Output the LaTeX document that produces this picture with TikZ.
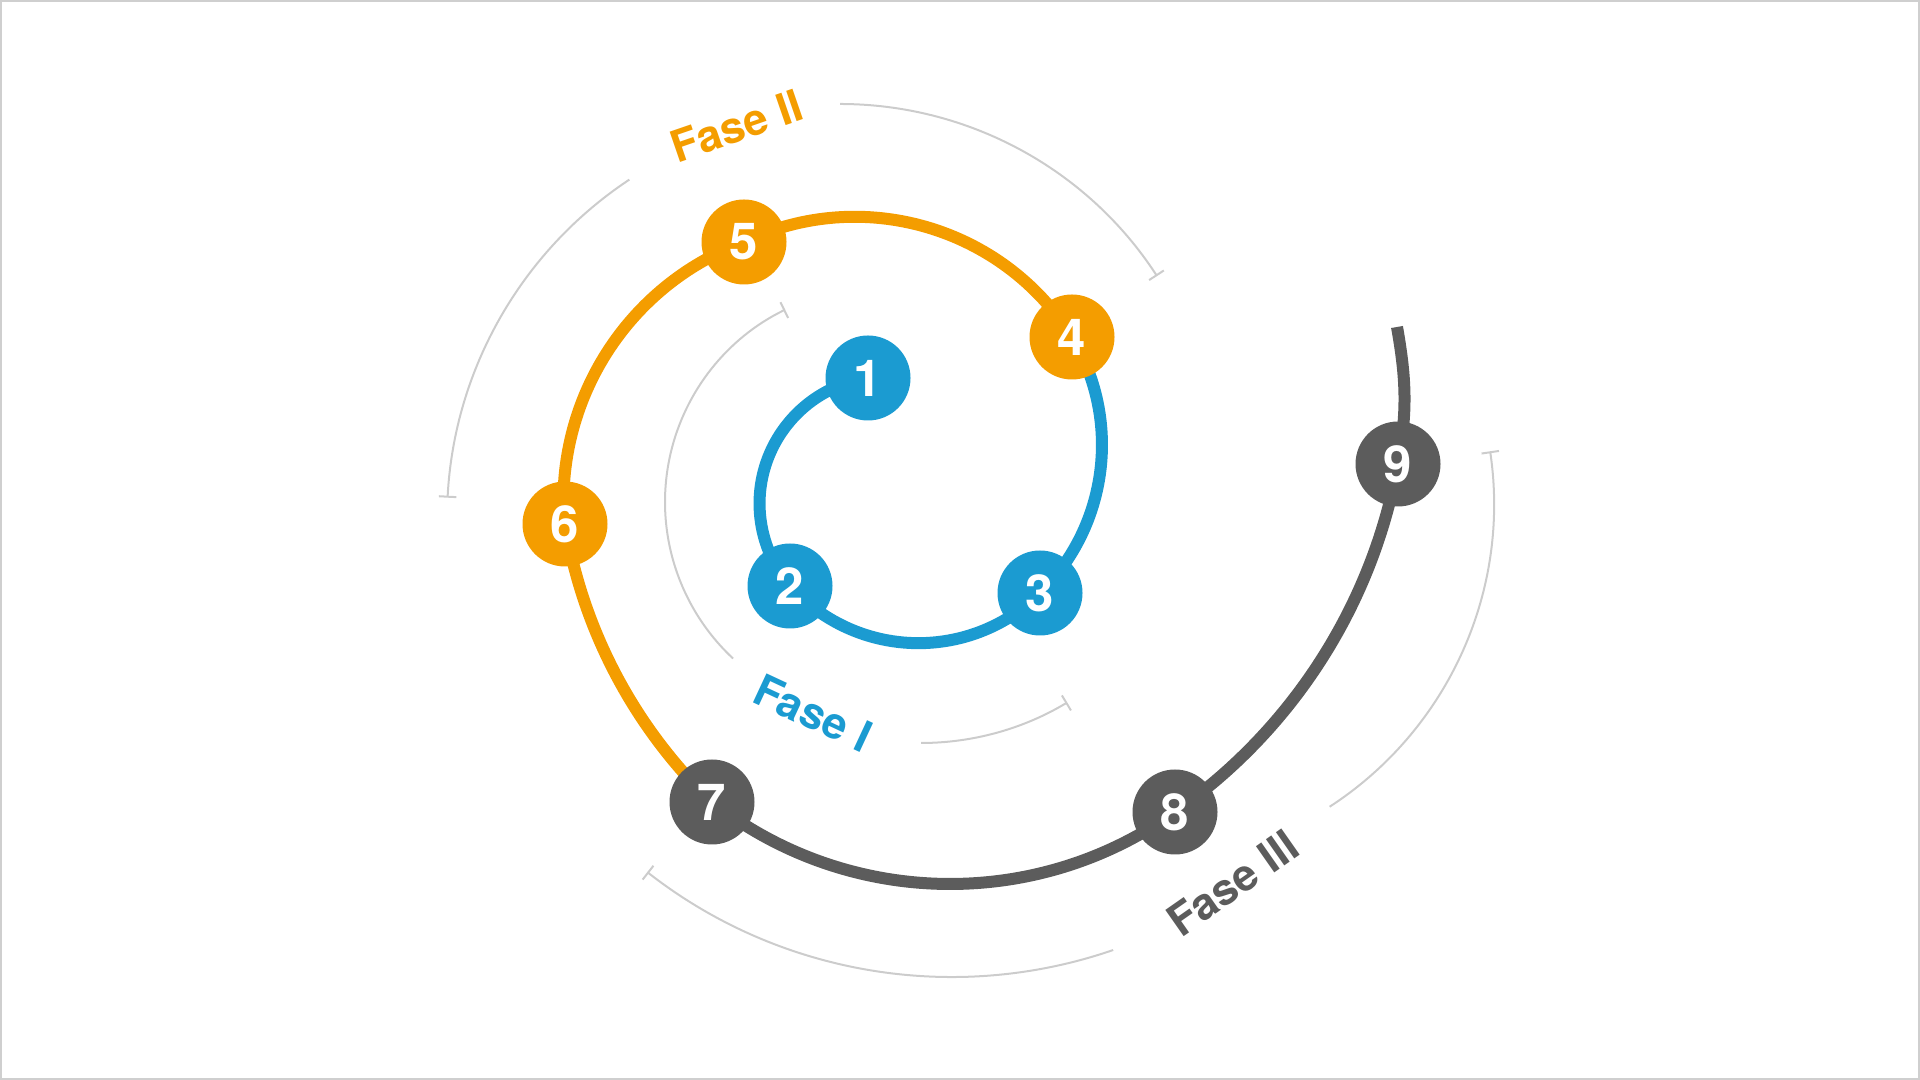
\documentclass[tikz,border=0pt]{standalone}
\usepackage{fontspec}
\setmainfont{TeX Gyre Heros}
\usepackage{tikz}
\usetikzlibrary{arrows.meta, backgrounds}

\definecolor{faseblue}{HTML}{1B9BD1}
\definecolor{faseorange}{HTML}{F49D00}
\definecolor{fasegray}{HTML}{5C5C5C}
\definecolor{guidegray}{HTML}{CCCCCC}

\begin{document}
\begin{tikzpicture}[
    stop/.style={circle, fill=#1, text=white, minimum size=0.85cm, inner sep=0pt, font=\fontsize{14.5}{14.5}\selectfont\bfseries},
    track/.style={draw=#1, line width=0.12cm},
    guide/.style={draw=guidegray, line width=0.02cm, -{Bar[width=5pt]}},
    phase label/.style={text=#1, font=\fontsize{12.5}{12.5}\selectfont\bfseries}
]
    \useasboundingbox (0,0) rectangle (19.2,10.8);

    % spiral stops
    \node[stop=faseblue] (n1) at (8.68, 7.02) {1};
    \node[stop=faseblue] (n2) at (7.90, 4.94) {2};
    \node[stop=faseblue] (n3) at (10.40, 4.87) {3};
    \node[stop=faseorange] (n4) at (10.72, 7.43) {4};
    \node[stop=faseorange] (n5) at (7.44, 8.38) {5};
    \node[stop=faseorange] (n6) at (5.65, 5.56) {6};
    \node[stop=fasegray] (n7) at (7.12, 2.78) {7};
    \node[stop=fasegray] (n8) at (11.75, 2.68) {8};
    \node[stop=fasegray] (n9) at (13.98, 6.16) {9};
    \coordinate (tail) at (13.97, 7.53);

    % phase labels
    \node[phase label=faseblue, rotate=-25] (faseI) at (8.13, 3.67) {Fase I};
    \node[phase label=faseorange, rotate=19] (faseII) at (7.37, 9.54) {Fase II};
    \node[phase label=fasegray, rotate=35] (faseIII) at (12.33, 1.97) {Fase III};

    \begin{scope}[on background layer]
        \draw[draw=black!19, line width=0.02cm] (0.01,0.01) rectangle (19.19,10.79);
        % spiral
        \draw[track=faseblue] (n1.center) arc[start angle=98.4, end angle=220.5, radius=1.27]
            (n2.center) arc[start angle=222, end angle=314.8, radius=1.728]
            (n3.center) arc[start angle=-45.4, end angle=31.2, radius=2.08];
        \draw[track=faseorange] (n4.center) arc[start angle=32.1, end angle=115.6, radius=2.565]
            (n5.center) arc[start angle=110.3, end angle=184.6, radius=2.765]
            (n6.center) arc[start angle=189.5, end angle=226.2, radius=5.0];
        \draw[track=fasegray] (n7.center) arc[start angle=232, end angle=305.5, radius=3.868]
            (n8.center) arc[start angle=-55.07, end angle=-10.23, radius=5.418]
            (n9.center) to[out=80, in=-80] (tail);
        % phase guides
        \draw[guide] ([shift={(227:2.14)}]8.79,5.78) arc[start angle=227, end angle=116, radius=2.14];
        \draw[guide] ([shift={(270:2.84)}]9.21,6.21) arc[start angle=270, end angle=301, radius=2.84];
        \draw[guide] ([shift={(90:3.78)}]8.40,5.98) arc[start angle=90, end angle=33, radius=3.78];
        \draw[guide] ([shift={(123.5:4.07)}]8.54,5.61) arc[start angle=123.5, end angle=177, radius=4.07];
        \draw[guide] ([shift={(289:4.95)}]9.52,5.98) arc[start angle=289, end angle=232, radius=4.95];
        \draw[guide] ([shift={(303:3.61)}]11.33,5.76) arc[start angle=303, end angle=368.4, radius=3.61];
    \end{scope}
\end{tikzpicture}
\end{document}
